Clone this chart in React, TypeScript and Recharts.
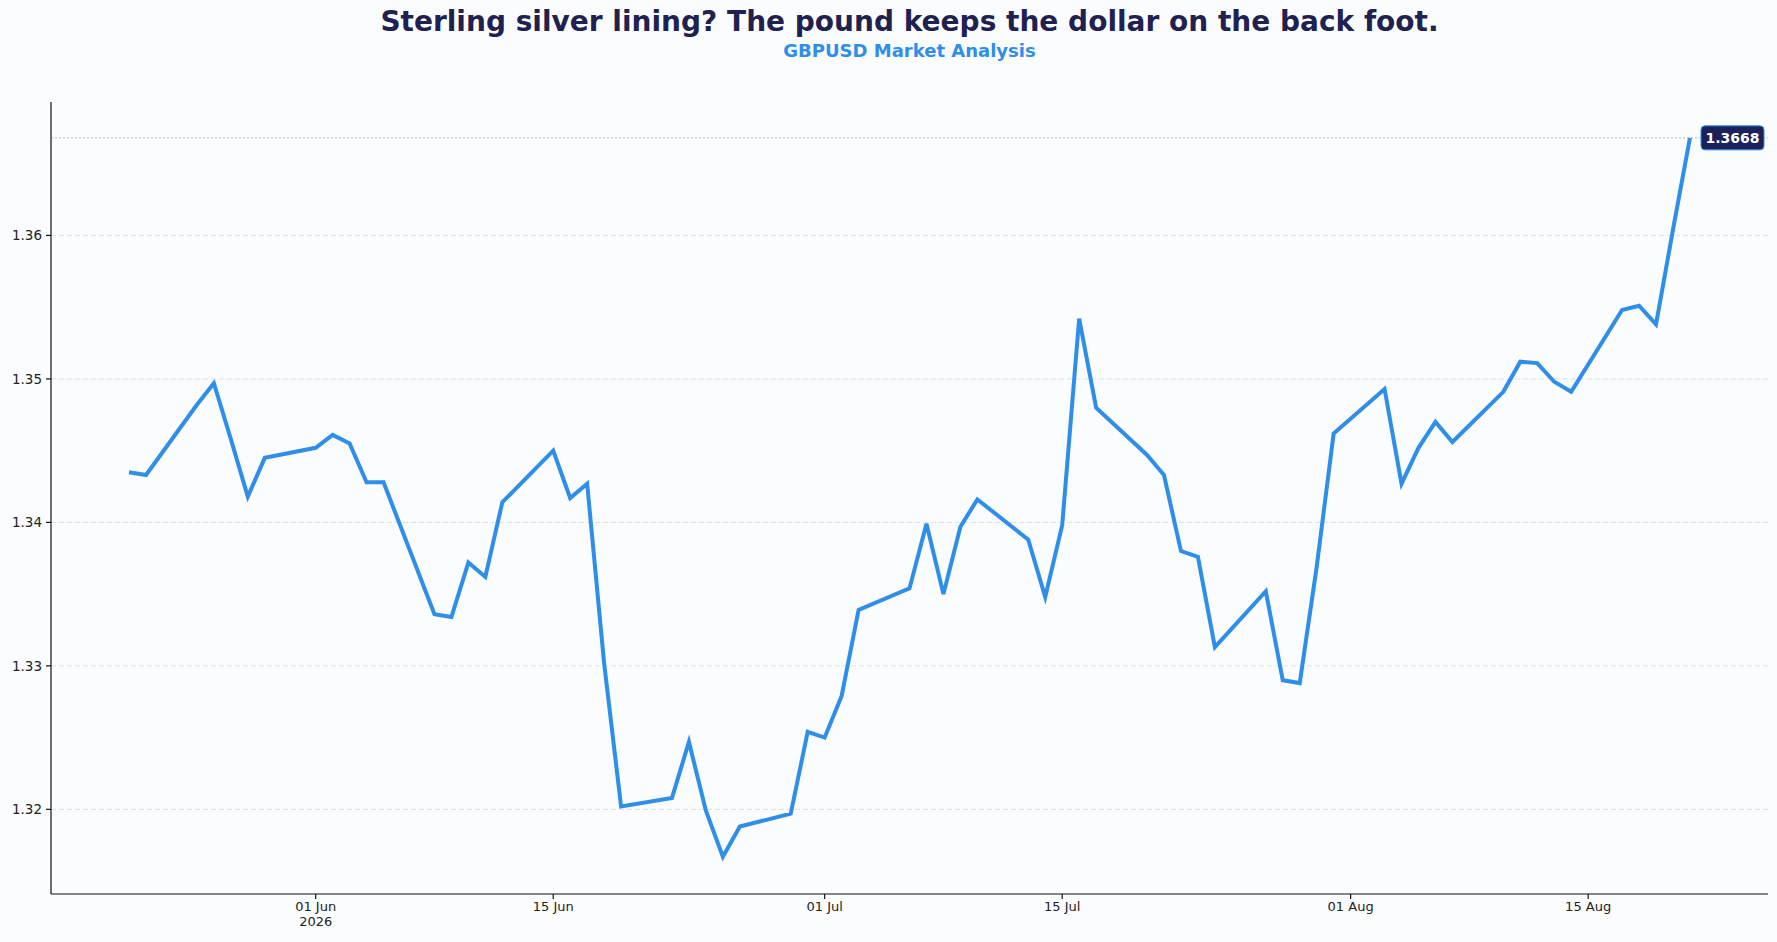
import { LineChart, Line, XAxis, YAxis, ReferenceLine } from 'recharts'

const dates = [
  '2026-05-21', '2026-05-22',
  '2026-05-25', '2026-05-26', '2026-05-27', '2026-05-28', '2026-05-29',
  '2026-06-01', '2026-06-02', '2026-06-03', '2026-06-04', '2026-06-05',
  '2026-06-08', '2026-06-09', '2026-06-10', '2026-06-11', '2026-06-12',
  '2026-06-15', '2026-06-16', '2026-06-17', '2026-06-18', '2026-06-19',
  '2026-06-22', '2026-06-23', '2026-06-24', '2026-06-25', '2026-06-26',
  '2026-06-29', '2026-06-30', '2026-07-01', '2026-07-02', '2026-07-03',
  '2026-07-06', '2026-07-07', '2026-07-08', '2026-07-09', '2026-07-10',
  '2026-07-13', '2026-07-14', '2026-07-15', '2026-07-16', '2026-07-17',
  '2026-07-20', '2026-07-21', '2026-07-22', '2026-07-23', '2026-07-24',
  '2026-07-27', '2026-07-28', '2026-07-29', '2026-07-30', '2026-07-31',
  '2026-08-03', '2026-08-04', '2026-08-05', '2026-08-06', '2026-08-07',
  '2026-08-10', '2026-08-11', '2026-08-12', '2026-08-13', '2026-08-14',
  '2026-08-17', '2026-08-18', '2026-08-19', '2026-08-20', '2026-08-21',
]

const closes = [
  1.3435, 1.3433,
  1.3482, 1.3497, 1.3458, 1.3418, 1.3445,
  1.3452, 1.3461, 1.3455, 1.3428, 1.3428,
  1.3336, 1.3334, 1.3372, 1.3362, 1.3414,
  1.3450, 1.3417, 1.3427, 1.3302, 1.3202,
  1.3208, 1.3247, 1.3199, 1.3167, 1.3188,
  1.3197, 1.3254, 1.3250, 1.3279, 1.3339,
  1.3354, 1.3399, 1.3350, 1.3397, 1.3416,
  1.3388, 1.3348, 1.3398, 1.3542, 1.3480,
  1.3447, 1.3433, 1.3380, 1.3376, 1.3313,
  1.3352, 1.3290, 1.3288, 1.3369, 1.3462,
  1.3493, 1.3427, 1.3452, 1.3470, 1.3456,
  1.3491, 1.3512, 1.3511, 1.3498, 1.3491,
  1.3548, 1.3551, 1.3538, 1.3604, 1.3668,
]

const xTickDates = ['2026-06-01', '2026-06-15', '2026-07-01', '2026-07-15', '2026-08-01', '2026-08-15']
const xTickLabels = [['01 Jun', '2026'], ['15 Jun'], ['01 Jul'], ['15 Jul'], ['01 Aug'], ['15 Aug']]
const yTicks = [1.32, 1.33, 1.34, 1.35, 1.36]

const FONT = '"DejaVu Sans", Verdana, sans-serif'
const BLUE = '#2E8EE8'
const NAVY = '#1F2150'

const toDay = (iso: string) => {
  const [y, m, d] = iso.split('-').map(Number)
  return Date.UTC(y, m - 1, d) / 86400000
}

const data = dates.map((d, i) => ({ day: toDay(d), close: closes[i] }))
const xTicks = xTickDates.map(toDay)
const firstDay = data[0].day
const lastDay = data[data.length - 1].day
const pad = (lastDay - firstDay) * 0.05
const lastClose = closes[closes.length - 1]

const DateTick = (props: any) => {
  const { x, y, payload } = props
  const idx = xTicks.indexOf(payload.value)
  const lines = idx >= 0 ? xTickLabels[idx] : []
  return (
    <text x={x} y={y} textAnchor="middle" fill="#222" fontSize={13} fontFamily={FONT}>
      {lines.map((l, i) => (
        <tspan key={i} x={x} dy={i === 0 ? 10 : 15}>{l}</tspan>
      ))}
    </text>
  )
}

const LastBadge = (props: any) => {
  const vb = props.viewBox || {}
  const w = 63
  const h = 24
  const bx = vb.x + vb.width - w - 4
  const by = vb.y - h / 2
  return (
    <g>
      <rect x={bx} y={by} width={w} height={h} rx={4} ry={4} fill="#1B2259" stroke={BLUE} strokeWidth={1} />
      <text x={bx + w / 2} y={vb.y + 5} textAnchor="middle" fill="#fff" fontSize={14} fontWeight="bold" fontFamily={FONT}>
        {lastClose.toFixed(4)}
      </text>
    </g>
  )
}

export default function App() {
  return (
    <div style={{ position: 'absolute', left: 0, top: 0, width: 1777, height: 942, background: '#FBFCFE', fontFamily: FONT }}>
      <div style={{ position: 'absolute', left: 51, width: 1717, top: 5, textAlign: 'center', fontSize: 28, lineHeight: '34px', fontWeight: 'bold', color: NAVY }}>
        Sterling silver lining? The pound keeps the dollar on the back foot.
      </div>
      <div style={{ position: 'absolute', left: 51, width: 1717, top: 40, textAlign: 'center', fontSize: 18, lineHeight: '22px', fontWeight: 'bold', color: BLUE }}>
        GBPUSD Market Analysis
      </div>
      <div style={{ position: 'absolute', left: 0, top: 0 }}>
        <LineChart width={1777} height={942} data={data} margin={{ top: 102, right: 9, bottom: 0, left: 0 }}>
          {yTicks.map((t) => (
            <ReferenceLine key={t} y={t} stroke="#D5D8DE" strokeDasharray="5 3" strokeWidth={0.8} />
          ))}
          <XAxis
            dataKey="day"
            type="number"
            domain={[firstDay - pad, lastDay + pad]}
            ticks={xTicks}
            tick={<DateTick />}
            height={48}
            stroke="#111"
            strokeWidth={1.2}
            tickSize={5}
            tickLine={{ stroke: '#111' }}
            allowDataOverflow
          />
          <YAxis
            type="number"
            domain={[1.3141, 1.3693]}
            ticks={yTicks}
            tickFormatter={(v: number) => v.toFixed(2)}
            width={51}
            stroke="#111"
            strokeWidth={1.2}
            tickSize={5}
            tickMargin={4}
            tick={{ fill: '#222', fontSize: 13.5, fontFamily: FONT }}
            allowDataOverflow
          />
          <ReferenceLine y={lastClose} stroke="#B9BDC6" strokeDasharray="2 2" strokeWidth={1} label={<LastBadge />} />
          <Line
            type="linear"
            dataKey="close"
            stroke={BLUE}
            strokeWidth={4}
            dot={false}
            strokeLinejoin="miter"
            isAnimationActive={false}
          />
        </LineChart>
      </div>
    </div>
  )
}
